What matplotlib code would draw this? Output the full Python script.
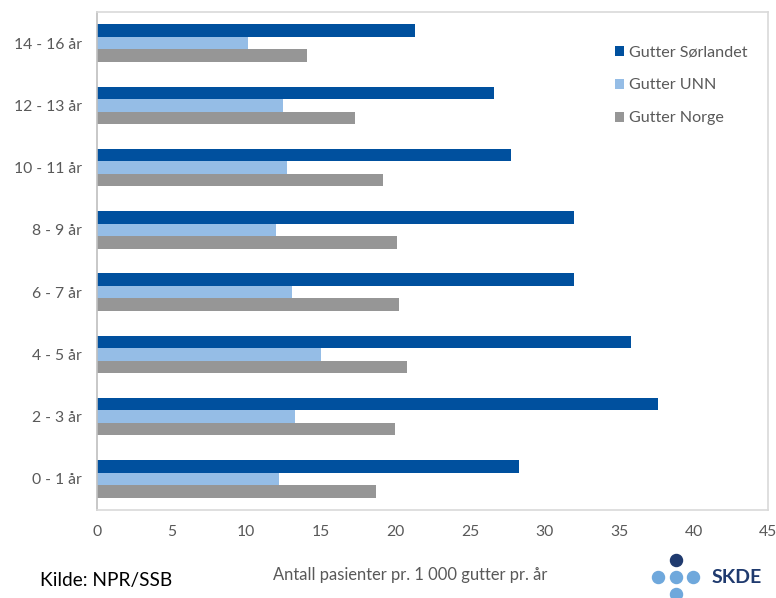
import matplotlib
matplotlib.use('Agg')
import matplotlib.pyplot as plt
import numpy as np
from matplotlib.patches import Patch

plt.rcParams['font.family'] = ['Lato', 'DejaVu Sans']

# Data
categories = ['0 - 1 år', '2 - 3 år', '4 - 5 år', '6 - 7 år',
              '8 - 9 år', '10 - 11 år', '12 - 13 år', '14 - 16 år']
sorlandet = [28.3, 37.6, 35.8, 31.95, 32.0, 27.75, 26.6, 21.3]
unn = [12.2, 13.3, 15.0, 13.1, 12.0, 12.75, 12.5, 10.1]
norge = [18.7, 20.0, 20.8, 20.25, 20.1, 19.2, 17.3, 14.1]
series_names = ['Gutter Sørlandet', 'Gutter UNN', 'Gutter Norge']
colors = ['#00509E', '#95BDE6', '#969696']
xticks = [0, 5, 10, 15, 20, 25, 30, 35, 40, 45]

txt_color = '#595959'

fig = plt.figure(figsize=(7.76, 5.98), dpi=100)
ax = fig.add_axes([0.125, 0.147, 0.865, 0.833])

y = np.arange(len(categories))
h = 0.2
ax.barh(y + h, sorlandet, height=h, color=colors[0])
ax.barh(y, unn, height=h, color=colors[1])
ax.barh(y - h, norge, height=h, color=colors[2])

ax.set_xlim(0, 45)
ax.set_ylim(-0.5, len(categories) - 0.5)
ax.set_xticks(xticks)
ax.set_xticklabels([str(t) for t in xticks])
ax.set_yticks(y)
ax.set_yticklabels(categories)
ax.tick_params(axis='x', length=0, pad=11, labelsize=11.3, labelcolor=txt_color)
ax.tick_params(axis='y', length=0, pad=11, labelsize=11.3, labelcolor=txt_color)

for side in ['top', 'right', 'bottom']:
    ax.spines[side].set_color('#D9D9D9')
    ax.spines[side].set_linewidth(1.2)
ax.spines['left'].set_color('#BFBFBF')
ax.spines['left'].set_linewidth(1.2)

handles = [Patch(facecolor=c, edgecolor='none') for c in colors]
ax.legend(handles, series_names, loc='upper left', bbox_to_anchor=(0.75, 0.962),
          frameon=False, fontsize=11.6, labelcolor=txt_color,
          handlelength=0.56, handleheight=0.56, handletextpad=0.3, labelspacing=1.18)

fig.text(0.528, 0.038, 'Antall pasienter pr. 1 000 gutter pr. år', ha='center', va='center',
         fontsize=11.9, color=txt_color)
fig.text(0.052, 0.030, 'Kilde: NPR/SSB', ha='left', va='center', fontsize=13.8, color='black')

# SKDE logo
lax = fig.add_axes([0.8367, -0.0075, 0.0677, 0.0853])
lax.set_xlim(-1.5, 1.5)
lax.set_ylim(-1.5, 1.5)
lax.axis('off')
lax.scatter([0], [1], s=75, color='#1F3A6E', clip_on=False)
lax.scatter([-1, 0, 1, 0], [0, 0, 0, -1], s=75, color='#6FA8DC', clip_on=False)
fig.text(0.917, 0.035, 'SKDE', ha='left', va='center', fontsize=14,
         fontweight='bold', color='#1F3A6E')

fig.savefig('out.png', dpi=100)
